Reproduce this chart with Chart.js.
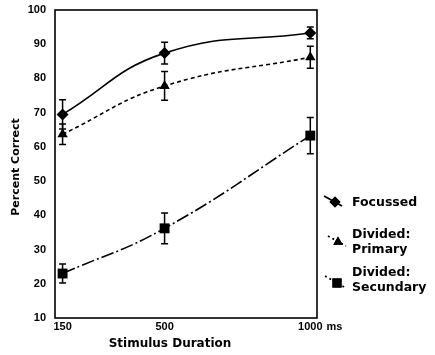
<!DOCTYPE html>
<html>
<head>
<meta charset="utf-8">
<script src="https://cdn.jsdelivr.net/npm/chart.js@4/dist/chart.umd.min.js"></script>
<style>
  html, body { margin: 0; padding: 0; background: #fff; }
  #wrap { width: 435px; height: 355px; }
</style>
</head>
<body>
<div id="wrap"><canvas id="c" width="435" height="355"></canvas></div>
<script>
// ---- data ----
const durations = [150, 500, 1000];          // ms
const xTickLabels = ['150', '500', '1000'];
const yTicks = [10, 20, 30, 40, 50, 60, 70, 80, 90, 100];
const focussed = [69.5, 87.4, 93.3];
const focussedErr = [4.3, 3.2, 1.7];
const primary = [63.7, 77.8, 86.2];
const primaryErr = [3.0, 4.2, 3.2];
const secondary = [23.0, 36.2, 63.3];
const secondaryErr = [2.8, 4.5, 5.3];
const legendLabels = [['Focussed'], ['Divided:', 'Primary'], ['Divided:', 'Secundary']];
const xTitle = 'Stimulus Duration';
const yTitle = 'Percent Correct';
const xUnit = 'ms';

const TICK_FONT = 'bold 11px "Liberation Sans", Arial, sans-serif';
const XTITLE_FONT = 'bold 12px "DejaVu Sans", sans-serif';
const YTITLE_FONT = 'bold 11px "DejaVu Sans", sans-serif';
const LEGEND_FONT = 'bold 12.5px "DejaVu Sans", sans-serif';

const toXY = arr => arr.map((v, i) => ({ x: durations[i], y: v }));

const seriesStyle = [
  { pointStyle: 'rectRot', radius: 6, dash: [] },
  { pointStyle: 'triangle', radius: 6, dash: [4, 3] },
  { pointStyle: 'rect', radius: 7, dash: [13, 3, 2, 3] }
];
const errs = [focussedErr, primaryErr, secondaryErr];

const datasets = [focussed, primary, secondary].map((vals, i) => ({
  label: legendLabels[i].join(' '),
  data: toXY(vals),
  borderColor: '#000',
  backgroundColor: '#000',
  borderWidth: 1.6,
  borderDash: seriesStyle[i].dash,
  pointStyle: seriesStyle[i].pointStyle,
  pointRadius: seriesStyle[i].radius,
  pointBorderWidth: 0,
  tension: 0.45,
  fill: false
}));

const extrasPlugin = {
  id: 'extras',
  afterDatasetsDraw(chart) {
    const ctx = chart.ctx;
    const xs = chart.scales.x, ys = chart.scales.y;
    ctx.save();
    ctx.strokeStyle = '#000';
    ctx.lineWidth = 1.5;
    ctx.setLineDash([]);
    // error bars
    [focussed, primary, secondary].forEach((vals, si) => {
      vals.forEach((v, i) => {
        const px = xs.getPixelForValue(durations[i]);
        const top = ys.getPixelForValue(v + errs[si][i]);
        const bot = ys.getPixelForValue(v - errs[si][i]);
        ctx.beginPath();
        ctx.moveTo(px, top); ctx.lineTo(px, bot);
        ctx.moveTo(px - 3.5, top); ctx.lineTo(px + 3.5, top);
        ctx.moveTo(px - 3.5, bot); ctx.lineTo(px + 3.5, bot);
        ctx.stroke();
      });
    });
    ctx.restore();
  },
  afterDraw(chart) {
    const ctx = chart.ctx;
    const a = chart.chartArea;
    const xs = chart.scales.x;
    ctx.save();
    // frame
    ctx.strokeStyle = '#000';
    ctx.lineWidth = 1.6;
    ctx.setLineDash([]);
    ctx.strokeRect(a.left, a.top, a.right - a.left, a.bottom - a.top);
    // unit after last x tick
    ctx.fillStyle = '#000';
    ctx.font = TICK_FONT;
    ctx.textBaseline = 'middle';
    ctx.textAlign = 'left';
    const lastX = xs.getPixelForValue(durations[durations.length - 1]);
    const w = ctx.measureText(xTickLabels[xTickLabels.length - 1]).width;
    ctx.fillText(xUnit, lastX + w / 2 + 4, a.bottom + 8.5);
    // axis titles
    ctx.font = XTITLE_FONT;
    ctx.textAlign = 'center';
    ctx.fillText(xTitle, 170, 344);
    ctx.save();
    ctx.font = YTITLE_FONT;
    ctx.translate(16, 167);
    ctx.rotate(-Math.PI / 2);
    ctx.fillText(yTitle, 0, 0);
    ctx.restore();
    // legend
    const items = [
      { x0: 324, y0: 196, x1: 342, y1: 206, mx: 335, my: 202, ty: [203] },
      { x0: 328, y0: 236, x1: 346, y1: 246, mx: 338, my: 242, ty: [235, 250] },
      { x0: 325, y0: 276, x1: 346, y1: 288, mx: 337, my: 283, ty: [273, 288] }
    ];
    items.forEach((it, i) => {
      ctx.lineWidth = 1.8;
      ctx.setLineDash(seriesStyle[i].dash.length ? [2, 3] : []);
      ctx.beginPath();
      ctx.moveTo(it.x0, it.y0); ctx.lineTo(it.x1, it.y1);
      ctx.stroke();
      ctx.setLineDash([]);
      Chart.helpers.drawPoint(ctx, {
        pointStyle: seriesStyle[i].pointStyle,
        radius: seriesStyle[i].radius - 0.5,
        rotation: 0,
        borderWidth: 0
      }, it.mx, it.my);
      ctx.fill();
      ctx.font = LEGEND_FONT;
      ctx.textAlign = 'left';
      ctx.textBaseline = 'middle';
      legendLabels[i].forEach((t, k) => ctx.fillText(t, 352, it.ty[k]));
    });
    ctx.restore();
  }
};

new Chart(document.getElementById('c'), {
  type: 'line',
  data: { datasets },
  options: {
    responsive: false,
    devicePixelRatio: 1,
    animation: false,
    layout: { padding: { top: 10, right: 118, left: 0, bottom: 0 } },
    plugins: { legend: { display: false }, tooltip: { enabled: false } },
    scales: {
      x: {
        type: 'linear',
        min: 124,
        max: 1023,
        afterBuildTicks: s => { s.ticks = durations.map(v => ({ value: v })); },
        afterFit: s => { s.height = 37; s.paddingLeft = 0; s.paddingRight = 0; },
        grid: { display: false, drawTicks: false, tickLength: 0 },
        border: { display: false },
        ticks: {
          padding: 2,
          color: '#000',
          font: { family: '"Liberation Sans", Arial, sans-serif', size: 11, weight: 'bold' },
          maxRotation: 0,
          autoSkip: false,
          callback: v => xTickLabels[durations.indexOf(v)]
        }
      },
      y: {
        min: 10,
        max: 100,
        afterBuildTicks: s => { s.ticks = yTicks.map(v => ({ value: v })); },
        afterFit: s => { s.width = 55; s.paddingTop = 0; s.paddingBottom = 0; },
        grid: { display: false, drawTicks: false, tickLength: 0 },
        border: { display: false },
        ticks: {
          padding: 9,
          color: '#000',
          font: { family: '"Liberation Sans", Arial, sans-serif', size: 11, weight: 'bold' }
        }
      }
    }
  },
  plugins: [extrasPlugin]
});
</script>
</body>
</html>
